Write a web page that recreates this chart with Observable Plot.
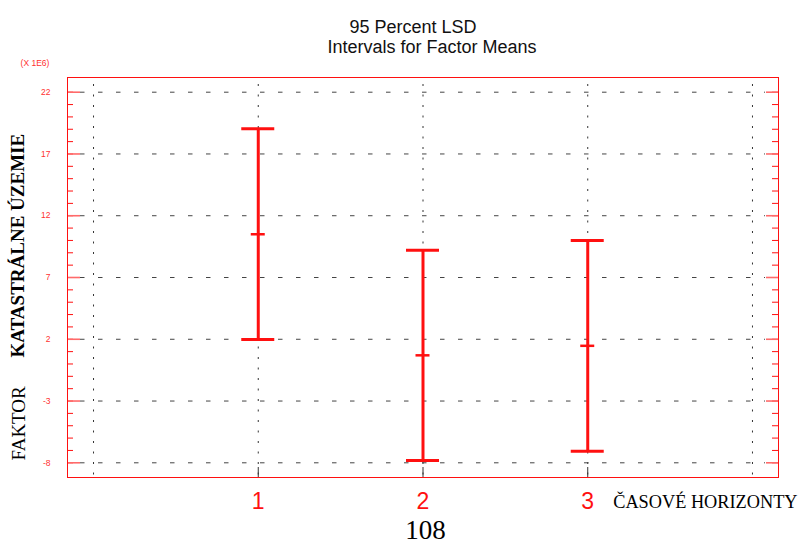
<!DOCTYPE html>
<html><head><meta charset="utf-8">
<script src="https://cdn.jsdelivr.net/npm/d3@7"></script>
<script src="https://cdn.jsdelivr.net/npm/@observablehq/plot@0.6"></script>
<style>body{margin:0;background:#fff}</style>
</head><body><div id="chart"></div>
<script>
// ---- data ----
const categories = ["1", "2", "3"];
const catPos = [1, 2, 3];
const upper = [19.05, 9.2, 10.0];
const mean = [10.5, 0.7, 1.47];
const lower = [1.98, -7.82, -7.07];
const yMajor = [-8, -3, 2, 7, 12, 17, 22];
const yMinor = [-8, -7, -6, -5, -4, -3, -2, -1, 0, 1, 2, 3, 4, 5, 6, 7, 8, 9, 10, 11, 12, 13, 14, 15, 16, 17, 18, 19, 20, 21, 22];
const xGrid = [0, 1, 2, 3, 4];
const titleLines = ["95 Percent LSD", "Intervals for Factor Means"];
const yTitle = ["FAKTOR", "KATASTRÁLNE ÚZEMIE"];
const xTitle = "ČASOVÉ HORIZONTY";
const unitLabel = "(X 1E6)";
const pageNumber = "108";

const table = categories.map((c, i) => ({cat: c, x: catPos[i], lower: lower[i], mean: mean[i], upper: upper[i]}));

const W = 801, H = 544, ML = 67, MR = 23, MT = 77, MB = 67;
const FW = W - ML - MR, FH = H - MT - MB;
const serif = "'Liberation Serif', 'Times New Roman', serif";
const RED = "#ff1010";

const chart = Plot.plot({
  width: W, height: H,
  marginLeft: ML, marginRight: MR, marginTop: MT, marginBottom: MB,
  style: {fontFamily: "'Liberation Sans', Arial, sans-serif", background: "white", overflow: "visible"},
  x: {domain: [-0.158, 4.158], axis: null},
  y: {domain: [-9.19, 23.19], axis: null},
  marks: [
    // grids
    Plot.ruleX(xGrid, {x: d => d, stroke: "#333", strokeDasharray: "2,8.5", insetTop: 7}),
    Plot.ruleY(yMajor, {y: d => d, stroke: "#444", strokeDasharray: "4.5,13.5", insetLeft: 13, insetRight: 13}),
    // left ticks
    Plot.ruleY(yMinor, {y: d => d, stroke: RED, insetRight: FW - 6}),
    Plot.ruleY(yMajor, {y: d => d, stroke: "#ff6a6a", strokeWidth: 1.6, insetRight: FW - 13}),
    // right ticks
    Plot.ruleY(yMinor, {y: d => d, stroke: RED, insetLeft: FW - 6}),
    Plot.ruleY(yMajor, {y: d => d, stroke: "#ff6a6a", strokeWidth: 1.6, insetLeft: FW - 12}),
    // bottom ticks
    Plot.ruleX(catPos, {x: d => d, stroke: "#333", insetTop: FH - 10}),
    Plot.frame({stroke: RED}),
    // error bars
    Plot.ruleX(table, {x: "x", y1: "lower", y2: "upper", stroke: RED, strokeWidth: 3}),
    Plot.ruleY(table, {x1: "x", x2: "x", y: "upper", insetLeft: -16.5, insetRight: -16.5, stroke: RED, strokeWidth: 3}),
    Plot.ruleY(table, {x1: "x", x2: "x", y: "lower", insetLeft: -16.5, insetRight: -16.5, stroke: RED, strokeWidth: 3}),
    Plot.ruleY(table, {x1: "x", x2: "x", y: "mean", insetLeft: -7, insetRight: -7, stroke: RED, strokeWidth: 2.5}),
    // y tick labels
    Plot.text(yMajor, {y: d => d, text: d => String(d), frameAnchor: "left", textAnchor: "end", dx: -17, fill: "#ff3030", fontSize: 8.5}),
    Plot.text([unitLabel], {text: d => d, frameAnchor: "top-left", textAnchor: "middle", dx: -32.5, dy: -17.3, fill: "#ff3030", fontSize: 8.5}),
    // x tick labels
    Plot.text(table, {x: "x", text: "cat", frameAnchor: "bottom", dy: 31, fontSize: 23, fill: RED}),
    // titles
    Plot.text([titleLines[0]], {text: d => d, frameAnchor: "top-left", textAnchor: "start", dx: 282, dy: -57, fontSize: 18, fill: "#111"}),
    Plot.text([titleLines[1]], {text: d => d, frameAnchor: "top-left", textAnchor: "start", dx: 260, dy: -37, fontSize: 18, fill: "#111"}),
    // y title (rotated)
    Plot.text([yTitle[0]], {text: d => d, frameAnchor: "bottom-left", rotate: -90, textAnchor: "start", dx: -43, dy: -17, fontSize: 19, fontFamily: serif, fill: "#000"}),
    Plot.text([yTitle[1]], {text: d => d, frameAnchor: "bottom-left", rotate: -90, textAnchor: "start", dx: -43.5, dy: -120, fontSize: 19, fontWeight: "bold", fontFamily: serif, fill: "#000"}),
    // x title
    Plot.text([xTitle], {text: d => d, frameAnchor: "bottom-left", textAnchor: "start", dx: 545.7, dy: 30, fontSize: 18.3, fontFamily: serif, fill: "#000"}),
    // page number
    Plot.text([pageNumber], {text: d => d, frameAnchor: "bottom-left", textAnchor: "middle", dx: 358, dy: 61, fontSize: 27, fontFamily: serif, fill: "#000"})
  ]
});
document.getElementById("chart").append(chart);
</script>
</body></html>
